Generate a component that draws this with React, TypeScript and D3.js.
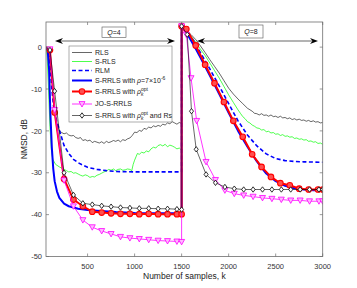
import React, { useEffect, useRef } from "react";
import * as d3 from "d3";

type Pt = [number, number];

// [sample index k, NMSD in dB]
const rls: Pt[] = [
  [58, 0], [80, -1], [100, -3.5], [125, -9], [150, -14.5], [175, -18.5], [200, -20],
  [225, -20.4], [250, -20.7], [275, -20.5], [300, -21], [325, -21.2], [350, -21.1],
  [375, -21.6], [400, -21.8], [425, -21.6], [450, -22.3], [475, -22.1], [500, -22.4],
  [525, -22.2], [550, -22.8], [575, -22.5], [600, -22.7], [625, -22.9], [650, -22.6],
  [675, -23], [700, -22.5], [725, -22.8], [750, -22.6], [775, -22.3], [800, -22.5],
  [825, -22.2], [850, -22.6], [875, -22.1], [900, -22.3], [925, -21.9], [950, -21.7],
  [975, -21.1], [1000, -20.3], [1025, -20.4], [1050, -19.9], [1075, -20.1], [1100, -19.4],
  [1125, -19.6], [1150, -19.1], [1175, -19.3], [1200, -18.8], [1225, -19], [1250, -18.7],
  [1275, -18.9], [1300, -18.4], [1325, -18.6], [1350, -18.1], [1375, -18.3], [1400, -17.8],
  [1425, -18.1], [1450, -18.4], [1475, -18], [1500, -18.2],
  [1500, 5], [1550, 4], [1600, 3], [1650, 1.8], [1700, 0.3], [1750, -1.3], [1800, -3],
  [1850, -4.6], [1900, -6.2], [1950, -8], [2000, -9.8], [2050, -11.2], [2100, -12.4],
  [2150, -13.5], [2200, -14.6], [2250, -15.3], [2275, -15.8], [2300, -15.9], [2325, -16.2],
  [2350, -15.9], [2375, -16.3], [2400, -16.2], [2425, -16.5], [2450, -16.2], [2475, -16.6],
  [2500, -16.5], [2525, -16.8], [2550, -16.5], [2575, -16.9], [2600, -16.8], [2625, -17.1],
  [2650, -16.9], [2675, -17.3], [2700, -17.1], [2725, -17.4], [2750, -17.2], [2775, -17.5],
  [2800, -17.4], [2825, -17.7], [2850, -17.5], [2875, -17.8], [2900, -17.6], [2925, -17.9],
  [2950, -17.8], [2975, -18.1], [3000, -18],
];

const srls: Pt[] = [
  [58, 0], [70, -2], [85, -10], [100, -19], [115, -24.5], [130, -26.8], [160, -28],
  [200, -28.6], [225, -28.9], [250, -29.2], [275, -29.5], [300, -29.8], [325, -29.7],
  [350, -30.1], [375, -30], [400, -30.3], [425, -30.6], [450, -30.8], [475, -30.5],
  [500, -30.7], [525, -31.1], [550, -30.9], [575, -31], [600, -30.6], [625, -30.4],
  [650, -30.1], [675, -29.8], [700, -29.6], [725, -29.2], [750, -29.4], [775, -29.1],
  [800, -29.5], [825, -29.2], [850, -29.1], [875, -29.4], [900, -29.3], [925, -29.1],
  [950, -29.2], [970, -29.5], [985, -28], [1000, -27], [1015, -26.2], [1030, -25.4],
  [1050, -25.6], [1075, -25.1], [1100, -25.3], [1125, -24.8], [1150, -25], [1175, -24.3],
  [1200, -23.9], [1225, -24.1], [1250, -23.5], [1275, -23.3], [1300, -23.6], [1325, -23.2],
  [1350, -23.8], [1375, -23.4], [1400, -23.6], [1425, -23.9], [1450, -24.3], [1475, -24.1],
  [1500, -24.6],
  [1500, 5], [1550, 4], [1600, 2.6], [1650, 1.2], [1700, -0.5], [1750, -2], [1800, -3.8],
  [1850, -5.6], [1900, -7.4], [1950, -9.4], [2000, -11.4], [2050, -13.2], [2100, -15],
  [2125, -15.8], [2150, -16.6], [2175, -17.1], [2200, -17.8], [2225, -18.1], [2250, -18.6],
  [2275, -18.9], [2300, -19.3], [2325, -19.4], [2350, -19.8], [2375, -19.7], [2400, -20.2],
  [2425, -20.1], [2450, -20.5], [2475, -20.4], [2500, -20.8], [2525, -20.7], [2550, -21.1],
  [2575, -20.9], [2600, -21.3], [2625, -21.2], [2650, -21.5], [2675, -21.4], [2700, -21.8],
  [2725, -21.7], [2750, -22], [2775, -21.9], [2800, -22.2], [2825, -22.1], [2850, -22.5],
  [2875, -22.4], [2900, -22.7], [2925, -22.6], [2950, -23], [2975, -22.9], [3000, -23.2],
];

const rlm: Pt[] = [
  [58, 0], [80, -1], [100, -4], [120, -10], [140, -14.5], [170, -17.5], [200, -19.8],
  [250, -23.5], [300, -25.4], [350, -26.8], [400, -27.6], [450, -28.2], [500, -28.7],
  [600, -29.2], [700, -29.5], [800, -29.7], [1000, -29.8], [1200, -29.8], [1500, -29.8],
  [1500, 5], [1600, 2.5], [1700, -1.3], [1800, -5.2], [1900, -9.3], [2000, -13.5],
  [2100, -17.6], [2200, -21], [2300, -23.6], [2400, -25.5], [2500, -26.6], [2600, -27.1],
  [2700, -27.3], [2800, -27.4], [3000, -27.5],
];

const srrlsFixed: Pt[] = [
  [58, 0], [75, -0.5], [90, -5], [105, -16], [120, -24], [135, -29], [150, -32],
  [175, -34.5], [200, -36], [250, -37.4], [300, -38], [400, -38.6], [500, -38.9],
  [600, -39.1], [800, -39.4], [1000, -39.6], [1500, -39.7],
  [1500, 5], [1550, 3.5], [1600, 1.6], [1650, -0.4], [1700, -2.5], [1800, -6.8],
  [1900, -11.2], [2000, -15.7], [2100, -20], [2200, -23.8], [2300, -27.3], [2400, -30.2],
  [2500, -32], [2600, -33.1], [2700, -33.7], [2800, -34], [2900, -34.2], [3000, -34.2],
];

const srrlsOpt: Pt[] = [
  [58, 0], [100, -0.7], [150, -15.6], [250, -31.5], [350, -36.4], [450, -38], [550, -39.3],
  [650, -39.5], [750, -39.7], [850, -39.8], [950, -39.8], [1050, -39.9], [1150, -39.8],
  [1250, -39.9], [1350, -39.9], [1450, -39.9], [1500, -39.9],
  [1500, 5], [1550, 4.3], [1650, 0.4], [1750, -4.2], [1850, -8.6], [1950, -13.1],
  [2050, -17.6], [2150, -21.4], [2250, -25.6], [2350, -28.6], [2450, -31], [2550, -32.5],
  [2650, -33], [2750, -33.8], [2850, -34], [2950, -34], [3000, -34],
];

const joSrrls: Pt[] = [
  [58, 0], [100, -0.5], [150, -15], [250, -31.8], [350, -38], [450, -41.3], [550, -43],
  [650, -43.9], [750, -44.6], [850, -45.3], [950, -45.6], [1050, -45.8], [1150, -46],
  [1250, -46.2], [1350, -46.3], [1450, -46.4], [1500, -46.5],
  [1500, 5], [1550, 3], [1600, -7.4], [1660, -17.6], [1760, -27.4], [1860, -31.7],
  [1960, -34.2], [2060, -35], [2160, -35.4], [2260, -35.7], [2360, -36], [2460, -36.2],
  [2560, -36.4], [2660, -36.6], [2760, -36.6], [2860, -36.8], [2960, -36.8], [3000, -36.8],
];

const srrlsOptRs: Pt[] = [
  [58, 0], [100, -0.7], [150, -10.5], [250, -30], [350, -35.3], [450, -37.3], [550, -37.6],
  [650, -37.9], [750, -38.1], [850, -38.3], [950, -38.4], [1050, -38.5], [1150, -38.5],
  [1250, -38.6], [1350, -38.6], [1450, -38.7], [1500, -38.8],
  [1500, 5], [1560, 3], [1605, -15.3], [1655, -24.4], [1760, -30.4], [1860, -32.4],
  [1960, -33.4], [2060, -33.8], [2160, -34], [2260, -34], [2360, -34], [2460, -34],
  [2560, -34], [2660, -34], [2760, -34], [2860, -34], [2960, -34], [3000, -34],
];

const xTicks = [500, 1000, 1500, 2000, 2500, 3000];
const yTicks = [-50, -40, -30, -20, -10, 0];
const segmentLabels = ["Q=4", "Q=8"];

type Part = { t: string; it?: boolean; sup?: boolean; sub?: boolean; back?: number };

interface Series {
  data: Pt[];
  color: string;
  width: number;
  dash?: string;
  marker?: "circle" | "triangle" | "diamond";
  label: Part[];
}

const FONT = "'Liberation Sans', Arial, Helvetica, sans-serif";

const App: React.FC = () => {
  const svgRef = useRef<SVGSVGElement | null>(null);

  useEffect(() => {
    if (!svgRef.current) return;
    const svg = d3.select(svgRef.current);
    svg.selectAll("*").remove();

    const W = 357;
    const H = 288;
    const m = { top: 22, right: 34.3, bottom: 31.5, left: 46 };

    const x = d3.scaleLinear().domain([58, 3000]).range([m.left, W - m.right]);
    const y = d3.scaleLinear().domain([-50, 6]).range([H - m.bottom, m.top]);

    const rhoOpt: Part[] = [
      { t: "ρ", it: true },
      { t: "k", sub: true, it: true },
      { t: "opt", sup: true, back: 2.6 },
    ];

    const series: Series[] = [
      { data: rls, color: "#000000", width: 0.6, label: [{ t: "RLS" }] },
      { data: srls, color: "#00ff00", width: 0.7, label: [{ t: "S-RLS" }] },
      { data: rlm, color: "#0000ff", width: 1.6, dash: "4,2.5", label: [{ t: "RLM" }] },
      {
        data: srrlsFixed, color: "#0000ff", width: 2,
        label: [{ t: "S-RRLS with " }, { t: "ρ", it: true }, { t: "=7×10" }, { t: "-6", sup: true }],
      },
      {
        data: srrlsOpt, color: "#ff0000", width: 2, marker: "circle",
        label: [{ t: "S-RRLS with " }, ...rhoOpt],
      },
      { data: joSrrls, color: "#ff00ff", width: 0.8, marker: "triangle", label: [{ t: "JO-S-RRLS" }] },
      {
        data: srrlsOptRs, color: "#000000", width: 0.6, marker: "diamond",
        label: [{ t: "S-RRLS with " }, ...rhoOpt, { t: " and Rs" }],
      },
    ];

    svg.append("rect").attr("width", W).attr("height", H).attr("fill", "#fff");

    svg.append("defs").append("clipPath").attr("id", "plotclip")
      .append("rect")
      .attr("x", m.left).attr("y", m.top)
      .attr("width", W - m.left - m.right).attr("height", H - m.top - m.bottom);

    const line = d3.line<Pt>().x((d) => x(d[0])).y((d) => y(d[1]));

    const drawMarker = (g: d3.Selection<SVGGElement, unknown, null, undefined>, kind: string, cx: number, cy: number, color: string) => {
      if (kind === "circle") {
        g.append("circle").attr("cx", cx).attr("cy", cy).attr("r", 2.8)
          .attr("fill", "#ff5050").attr("stroke", "#ff0000").attr("stroke-width", 1.1);
      } else if (kind === "triangle") {
        const s = 3;
        g.append("path")
          .attr("d", `M${cx - s},${cy - s * 0.8}L${cx + s},${cy - s * 0.8}L${cx},${cy + s * 1.0}Z`)
          .attr("fill", "#ffb8ff").attr("stroke", color).attr("stroke-width", 0.8);
      } else {
        const s = 2.7;
        g.append("path")
          .attr("d", `M${cx},${cy - s}L${cx + s * 0.75},${cy}L${cx},${cy + s}L${cx - s * 0.75},${cy}Z`)
          .attr("fill", "#fff").attr("stroke", color).attr("stroke-width", 0.8);
      }
    };

    const plot = svg.append("g").attr("clip-path", "url(#plotclip)");
    series.forEach((s) => {
      plot.append("path")
        .datum(s.data)
        .attr("fill", "none")
        .attr("stroke", s.color)
        .attr("stroke-width", s.width)
        .attr("stroke-dasharray", s.dash ?? null)
        .attr("stroke-linejoin", "round")
        .attr("d", line);
      if (s.marker) {
        const mg = plot.append("g");
        s.data.filter((d) => d[0] >= 100).forEach((d) => drawMarker(mg, s.marker!, x(d[0]), y(d[1]), s.color));
      }
    });

    // axes box and inward ticks on all four sides
    const axisColor = "#6e6e6e";
    svg.append("rect")
      .attr("x", m.left).attr("y", m.top)
      .attr("width", W - m.left - m.right).attr("height", H - m.top - m.bottom)
      .attr("fill", "none").attr("stroke", axisColor).attr("stroke-width", 0.8);

    const tl = 3;
    xTicks.forEach((t) => {
      svg.append("line").attr("x1", x(t)).attr("x2", x(t))
        .attr("y1", H - m.bottom).attr("y2", H - m.bottom - tl).attr("stroke", axisColor).attr("stroke-width", 0.7);
      svg.append("line").attr("x1", x(t)).attr("x2", x(t))
        .attr("y1", m.top).attr("y2", m.top + tl).attr("stroke", axisColor).attr("stroke-width", 0.7);
      svg.append("text").attr("x", x(t)).attr("y", H - m.bottom + 12)
        .attr("text-anchor", "middle").attr("font-size", "7.5px").attr("font-family", FONT)
        .attr("fill", "#333").text(String(t));
    });
    yTicks.forEach((t) => {
      svg.append("line").attr("x1", m.left).attr("x2", m.left + tl)
        .attr("y1", y(t)).attr("y2", y(t)).attr("stroke", axisColor).attr("stroke-width", 0.7);
      svg.append("line").attr("x1", W - m.right).attr("x2", W - m.right - tl)
        .attr("y1", y(t)).attr("y2", y(t)).attr("stroke", axisColor).attr("stroke-width", 0.7);
      svg.append("text").attr("x", m.left - 4).attr("y", y(t)).attr("dy", "0.35em")
        .attr("text-anchor", "end").attr("font-size", "7.5px").attr("font-family", FONT)
        .attr("fill", "#333").text(String(t));
    });

    svg.append("text")
      .attr("x", (m.left + W - m.right) / 2).attr("y", H - 9)
      .attr("text-anchor", "middle").attr("font-size", "8.5px").attr("font-family", FONT)
      .attr("fill", "#222").text("Number of samples, k");

    svg.append("text")
      .attr("transform", `translate(27,${(m.top + H - m.bottom) / 2}) rotate(-90)`)
      .attr("text-anchor", "middle").attr("font-size", "8.5px").attr("font-family", FONT)
      .attr("fill", "#222").text("NMSD, dB");

    // segment annotations: double arrows with labelled boxes
    const arrowY = 41;
    const head = (xTip: number, dir: number) =>
      `M${xTip},${arrowY}L${xTip + dir * 8},${arrowY - 3}L${xTip + dir * 5.5},${arrowY}L${xTip + dir * 8},${arrowY + 3}Z`;
    const spans = [
      { x1: 55, x2: 175, bx: 102, by: 27, bw: 24, bh: 10.5 },
      { x1: 197, x2: 318, bx: 239, by: 25, bw: 24, bh: 13 },
    ];
    spans.forEach((s, i) => {
      svg.append("line").attr("x1", s.x1 + 5).attr("x2", s.x2 - 5)
        .attr("y1", arrowY).attr("y2", arrowY).attr("stroke", "#000").attr("stroke-width", 0.6);
      svg.append("path").attr("d", head(s.x1, 1)).attr("fill", "#000");
      svg.append("path").attr("d", head(s.x2, -1)).attr("fill", "#000");
      svg.append("rect").attr("x", s.bx).attr("y", s.by).attr("width", s.bw).attr("height", s.bh)
        .attr("fill", "#fff").attr("stroke", "#555").attr("stroke-width", 0.6);
      const txt = svg.append("text").attr("x", s.bx + s.bw / 2).attr("y", s.by + s.bh / 2)
        .attr("dy", "0.35em").attr("text-anchor", "middle").attr("font-size", "7px")
        .attr("font-family", FONT).attr("fill", "#222");
      const lab = segmentLabels[i];
      txt.append("tspan").attr("font-style", "italic").text(lab.slice(0, 1));
      txt.append("tspan").text(lab.slice(1));
    });

    // legend
    const lx = 69;
    const ly = 46;
    const lg = svg.append("g");
    lg.append("rect").attr("x", lx).attr("y", ly).attr("width", 103).attr("height", 76)
      .attr("fill", "#fff").attr("stroke", "#777").attr("stroke-width", 0.6);
    const rows = [6.5, 15.5, 24.5, 34.5, 45.5, 58, 69.5];
    series.forEach((s, i) => {
      const ry = ly + rows[i];
      lg.append("line").attr("x1", lx + 3).attr("x2", lx + 23).attr("y1", ry).attr("y2", ry)
        .attr("stroke", s.color).attr("stroke-width", s.width)
        .attr("stroke-dasharray", s.dash ?? null);
      if (s.marker) drawMarker(lg, s.marker, lx + 13, ry, s.color);
      const t = lg.append("text").attr("x", lx + 26).attr("y", ry).attr("dy", "0.35em")
        .attr("font-size", "7px").attr("font-family", FONT).attr("fill", "#222");
      let shifted = 0;
      s.label.forEach((p) => {
        const ts = t.append("tspan").text(p.t);
        if (p.it) ts.attr("font-style", "italic");
        if (p.back) ts.attr("dx", -p.back);
        if (p.sup) {
          ts.attr("font-size", "5px").attr("dy", -3 - shifted);
          shifted = -3;
        } else if (p.sub) {
          ts.attr("font-size", "5px").attr("dy", 2.5 - shifted);
          shifted = 2.5;
        } else if (shifted !== 0) {
          ts.attr("dy", -shifted);
          shifted = 0;
        }
      });
    });
  }, []);

  return (
    <svg
      ref={svgRef}
      width={357}
      height={288}
      style={{ position: "absolute", left: 0, top: 0 }}
    />
  );
};

export default App;
